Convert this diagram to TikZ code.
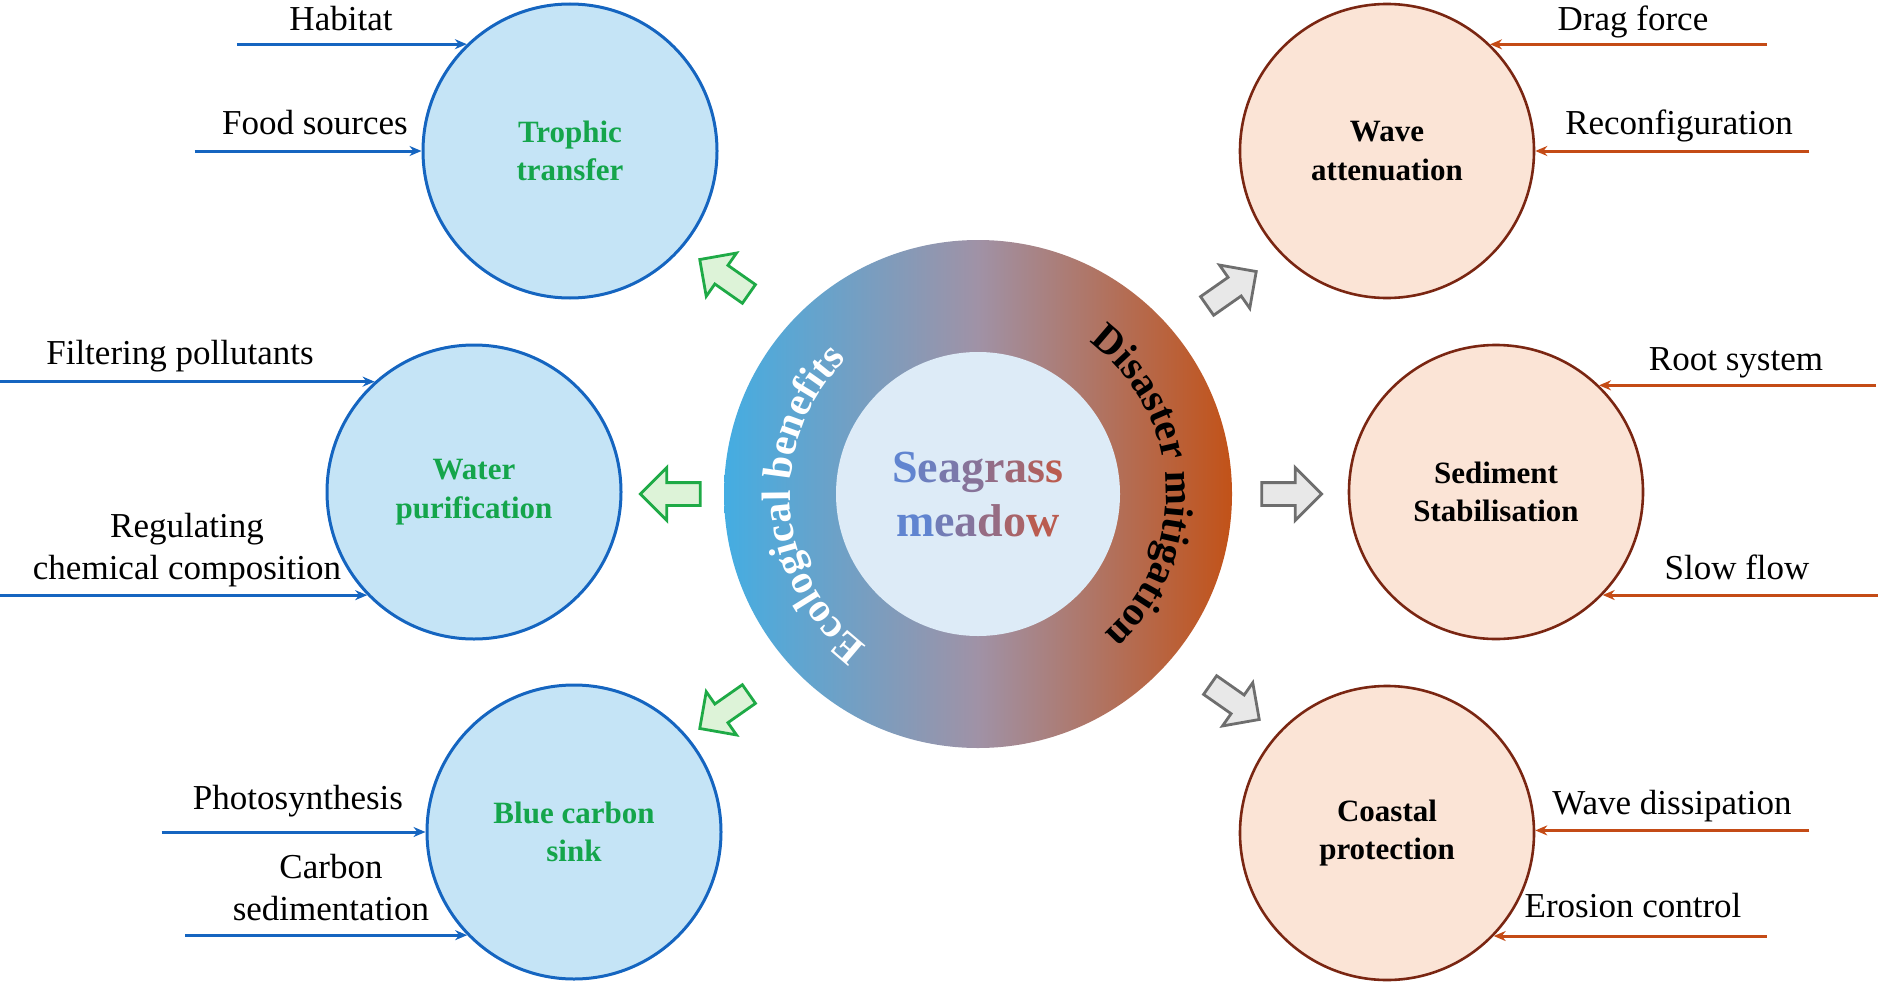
\documentclass[tikz,border=0pt]{standalone}
\usepackage{fontspec}
\setmainfont{Liberation Serif}
\usepackage{xcolor}
\usepackage{tikz}
\usetikzlibrary{arrows.meta, shapes.arrows, decorations.text}
\definecolor{ecoline}{RGB}{21,101,192}
\definecolor{ecofill}{RGB}{197,228,246}
\definecolor{ecotxt}{RGB}{20,165,75}
\definecolor{disline}{RGB}{196,75,22}
\definecolor{disedge}{RGB}{122,38,18}
\definecolor{disfill}{RGB}{251,228,214}
\definecolor{garfill}{RGB}{221,243,216}
\definecolor{garedge}{RGB}{30,170,70}
\definecolor{yarfill}{RGB}{232,232,232}
\definecolor{yaredge}{RGB}{110,110,110}
\definecolor{ringl}{RGB}{68,173,226}
\definecolor{ringm}{RGB}{160,146,166}
\definecolor{ringr}{RGB}{194,82,24}
\definecolor{corefill}{RGB}{221,235,247}
\definecolor{sga}{RGB}{96,132,208}
\definecolor{sgb}{RGB}{186,92,80}
\tikzset{
  eco/.style  = {circle, draw=ecoline, line width=3pt, fill=ecofill,
                 minimum size=294pt, inner sep=0pt, align=center, text=ecotxt,
                 font=\fontsize{31}{38.5}\selectfont\bfseries},
  dis/.style  = {circle, draw=disedge, line width=2.6pt, fill=disfill,
                 minimum size=294pt, inner sep=0pt, align=center,
                 font=\fontsize{31}{38.5}\selectfont\bfseries},
  core/.style = {circle, fill=corefill, minimum size=284pt, inner sep=0pt,
                 align=center, font=\fontsize{46}{54}\selectfont\bfseries},
  lbl/.style  = {anchor=base, align=center, inner sep=0pt,
                 font=\fontsize{35}{42}\selectfont},
  inb/.style  = {-{Stealth[length=12pt, width=10pt]}, draw=ecoline, line width=3pt},
  inr/.style  = {-{Stealth[length=12pt, width=10pt]}, draw=disline, line width=3pt},
  gar/.style  = {single arrow, draw=garedge, fill=garfill, line width=2.8pt,
                 minimum height=60pt, inner xsep=0pt, inner ysep=10pt,
                 single arrow head extend=15pt},
  yar/.style  = {single arrow, draw=yaredge, fill=yarfill, line width=2.8pt,
                 minimum height=60pt, inner xsep=0pt, inner ysep=10pt,
                 single arrow head extend=15pt},
}

\begin{document}
\begin{tikzpicture}[x=1pt, y=-1pt]
  \useasboundingbox (0,0) rectangle (1890,990);
  \coordinate (ctr) at (978,494);
  \shade[left color=ringl, right color=ringr, middle color=ringm] (ctr) circle[radius=254];
  \node[core] (sea) at (ctr) {%
    {\color{sga}S}{\color{sga!86!sgb}e}{\color{sga!71!sgb}a}{\color{sga!57!sgb}g}%
    {\color{sga!43!sgb}r}{\color{sga!29!sgb}a}{\color{sga!14!sgb}s}{\color{sgb}s}\\
    {\color{sga}m}{\color{sga!80!sgb}e}{\color{sga!60!sgb}a}{\color{sga!40!sgb}d}%
    {\color{sga!20!sgb}o}{\color{sgb}w}};
  \path[decorate, decoration={text along path, text align=center, text color=white,
        text={|\fontsize{41}{41}\selectfont\bfseries|Ecological benefits}}]
    (ctr) ++(-256:188) arc[start angle=-256, end angle=-112, radius=188];
  \path[decorate, decoration={text along path, text align=center, text color=black,
        text={|\fontsize{41}{41}\selectfont\bfseries|Disaster mitigation}}]
    (ctr) ++(-75:188) arc[start angle=-75, end angle=69, radius=188];

  \node[eco] (troph) at (570,151) {Trophic\\transfer};
  \node[eco] (water) at (474,492) {Water\\purification};
  \node[eco] (carb)  at (574,832) {Blue carbon\\sink};
  \node[dis] (wave)  at (1387,151) {Wave\\attenuation};
  \node[dis] (sed)   at (1496,492) {Sediment\\Stabilisation};
  \node[dis] (coast) at (1387,833) {Coastal\\protection};

  \node[gar, rotate=145] (ga1) at (729,280) {};
  \node[gar, rotate=180] (ga2) at (676,494) {};
  \node[gar, rotate=215] (ga3) at (729,708) {};
  \node[yar, rotate=35]  (ya1) at (1227,292) {};
  \node[yar]             (ya2) at (1286,494) {};
  \node[yar, rotate=-35] (ya3) at (1230,699) {};

  \coordinate (hab0)  at ([xshift=-230pt]troph.134);
  \coordinate (food0) at ([xshift=-227pt]troph.180);
  \coordinate (filt0) at ([xshift=-375pt]water.132);
  \coordinate (chem0) at ([xshift=-368pt]water.224);
  \coordinate (phot0) at ([xshift=-264pt]carb.180);
  \coordinate (csed0) at ([xshift=-282pt]carb.224);
  \coordinate (drag0) at ([xshift=277pt]wave.46);
  \coordinate (reco0) at ([xshift=274pt]wave.0);
  \coordinate (root0) at ([xshift=277pt]sed.46);
  \coordinate (slow0) at ([xshift=275pt]sed.-44);
  \coordinate (wdis0) at ([xshift=274pt]coast.1);
  \coordinate (eros0) at ([xshift=273pt]coast.-44);

  \draw[inb] (hab0) -- (troph.134);  \draw[inb] (food0) -- (troph.180);
  \draw[inb] (filt0) -- (water.132); \draw[inb] (chem0) -- (water.224);
  \draw[inb] (phot0) -- (carb.180);  \draw[inb] (csed0) -- (carb.224);
  \draw[inr] (drag0) -- (wave.46);   \draw[inr] (reco0) -- (wave.0);
  \draw[inr] (root0) -- (sed.46);    \draw[inr] (slow0) -- (sed.-44);
  \draw[inr] (wdis0) -- (coast.1);   \draw[inr] (eros0) -- (coast.-44);

  \node[lbl] (hab)  at (341,31)   {Habitat};
  \node[lbl] (food) at (315,134)  {Food sources};
  \node[lbl] (filt) at (180,364)  {Filtering pollutants};
  \node[lbl] (chem) at (187,579)  {Regulating\\chemical composition};
  \node[lbl] (phot) at (298,809)  {Photosynthesis};
  \node[lbl] (csed) at (331,920)  {Carbon\\sedimentation};
  \node[lbl] (drag) at (1633,31)  {Drag force};
  \node[lbl] (reco) at (1679,134) {Reconfiguration};
  \node[lbl] (root) at (1736,370) {Root system};
  \node[lbl] (slow) at (1737,579) {Slow flow};
  \node[lbl] (wdis) at (1672,814) {Wave dissipation};
  \node[lbl] (eros) at (1633,917) {Erosion control};
\end{tikzpicture}
\end{document}
